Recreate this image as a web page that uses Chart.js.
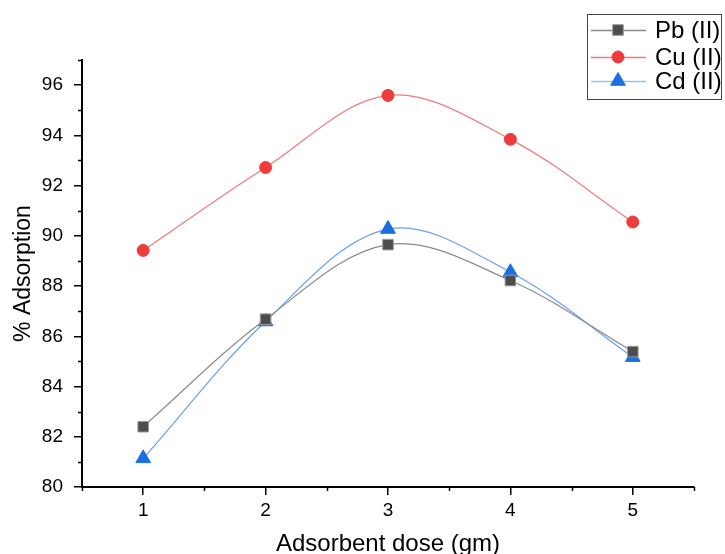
<!DOCTYPE html>
<html>
<head>
<meta charset="utf-8">
<script src="https://cdn.jsdelivr.net/npm/chart.js@4/dist/chart.umd.min.js"></script>
<style>
  html, body { margin: 0; padding: 0; background: #fff; }
  #wrap { width: 725px; height: 554px; }
</style>
</head>
<body>
<div id="wrap"><canvas id="chart" width="725" height="554"></canvas></div>
<script>
const doses = [1, 2, 3, 4, 5];
const pbValues = [82.4, 86.68, 89.65, 88.22, 85.39];
const cuValues = [89.42, 92.72, 95.59, 93.84, 90.55];
const cdValues = [81.14, 86.59, 90.27, 88.55, 85.17];
const xTicks = [1, 2, 3, 4, 5];
const yTicks = [80, 82, 84, 86, 88, 90, 92, 94, 96];

const FONT = "'Liberation Sans', Arial, sans-serif";

function toPoints(vals) {
  return doses.map((d, i) => ({ x: d, y: vals[i] }));
}

// minor ticks between the labelled ones, plus the boxed legend
const extras = {
  id: "extras",
  afterDraw(chart) {
    const { ctx, scales: { x, y } } = chart;
    ctx.save();
    ctx.strokeStyle = "#000";
    ctx.lineWidth = 1.5;
    ctx.beginPath();
    for (let v = 81; v <= 97; v += 2) {
      const py = Math.round(y.getPixelForValue(v)) + 0.5;
      ctx.moveTo(x.left - 4, py);
      ctx.lineTo(x.left, py);
    }
    for (let v = 0.5; v <= 5.5; v += 1) {
      const px = Math.round(x.getPixelForValue(v)) + 0.5;
      ctx.moveTo(px, y.bottom);
      ctx.lineTo(px, y.bottom + 4);
    }
    ctx.stroke();

    // legend
    ctx.strokeStyle = "#444";
    ctx.lineWidth = 1;
    ctx.strokeRect(587.5, 14.5, 134, 85);
    const rows = [30, 57, 81];
    ctx.font = "24px " + FONT;
    ctx.textBaseline = "middle";
    chart.data.datasets.forEach((ds, i) => {
      const ry = rows[i];
      ctx.strokeStyle = ds.legendLine;
      ctx.lineWidth = 1.5;
      ctx.beginPath();
      ctx.moveTo(591, ry + 0.5);
      ctx.lineTo(646, ry + 0.5);
      ctx.stroke();
      ctx.fillStyle = ds.pointBackgroundColor;
      ctx.strokeStyle = ds.pointBorderColor;
      ctx.lineWidth = ds.pointBorderWidth;
      Chart.helpers.drawPoint(ctx, {
        pointStyle: ds.pointStyle,
        radius: ds.pointRadius,
        borderWidth: ds.pointBorderWidth,
        rotation: 0
      }, 618, ry);
      ctx.fillStyle = "#000";
      ctx.fillText(ds.label, 655, ry + 1);
    });
    ctx.restore();
  }
};

new Chart(document.getElementById("chart"), {
  type: "line",
  data: {
    datasets: [
      {
        label: "Pb (II)",
        data: toPoints(pbValues),
        borderColor: "#8a8a8a",
        legendLine: "#8a8a8a",
        borderWidth: 1.2,
        pointStyle: "rect",
        pointRadius: 7.5,
        pointBackgroundColor: "#4d4d4d",
        pointBorderColor: "#9a9a9a",
        pointBorderWidth: 1,
        tension: 0.35
      },
      {
        label: "Cu (II)",
        data: toPoints(cuValues),
        borderColor: "#f27a7a",
        legendLine: "#f27a7a",
        borderWidth: 1.2,
        pointStyle: "circle",
        pointRadius: 6,
        pointBackgroundColor: "#ee3b3b",
        pointBorderColor: "#ee3b3b",
        pointBorderWidth: 1,
        tension: 0.35
      },
      {
        label: "Cd (II)",
        data: toPoints(cdValues),
        borderColor: "#6a9ff0",
        legendLine: "#9cc0f4",
        borderWidth: 1.2,
        pointStyle: "triangle",
        pointRadius: 8.5,
        pointBackgroundColor: "#1b6fe0",
        pointBorderColor: "#1b6fe0",
        pointBorderWidth: 1,
        tension: 0.35
      }
    ]
  },
  options: {
    responsive: false,
    animation: false,
    layout: { padding: { left: 0, right: 31, top: 60, bottom: 0 } },
    plugins: { legend: { display: false }, tooltip: { enabled: false } },
    scales: {
      x: {
        type: "linear",
        min: 0.5,
        max: 5.5,
        afterBuildTicks: (s) => { s.ticks = xTicks.map((v) => ({ value: v })); },
        afterFit: (s) => { s.height = 67; },
        border: { color: "#000", width: 2 },
        grid: { drawOnChartArea: false, tickLength: 8, color: "#000", lineWidth: 1.5 },
        ticks: { color: "#000", padding: 4, font: { family: FONT, size: 19 } },
        title: {
          display: true,
          text: "Adsorbent dose (gm)",
          color: "#000",
          font: { family: FONT, size: 24, lineHeight: 1 },
          padding: { top: 0, bottom: -2 }
        }
      },
      y: {
        min: 80,
        max: 97,
        afterBuildTicks: (s) => { s.ticks = yTicks.map((v) => ({ value: v })); },
        afterFit: (s) => { s.width = 82; },
        border: { color: "#000", width: 2 },
        grid: { drawOnChartArea: false, tickLength: 8, color: "#000", lineWidth: 1.5 },
        ticks: { color: "#000", padding: 11, font: { family: FONT, size: 19 } },
        title: {
          display: true,
          text: "% Adsorption",
          color: "#000",
          font: { family: FONT, size: 23, lineHeight: 1 },
          padding: { top: 12, bottom: 0 }
        }
      }
    }
  },
  plugins: [extras]
});
</script>
</body>
</html>
